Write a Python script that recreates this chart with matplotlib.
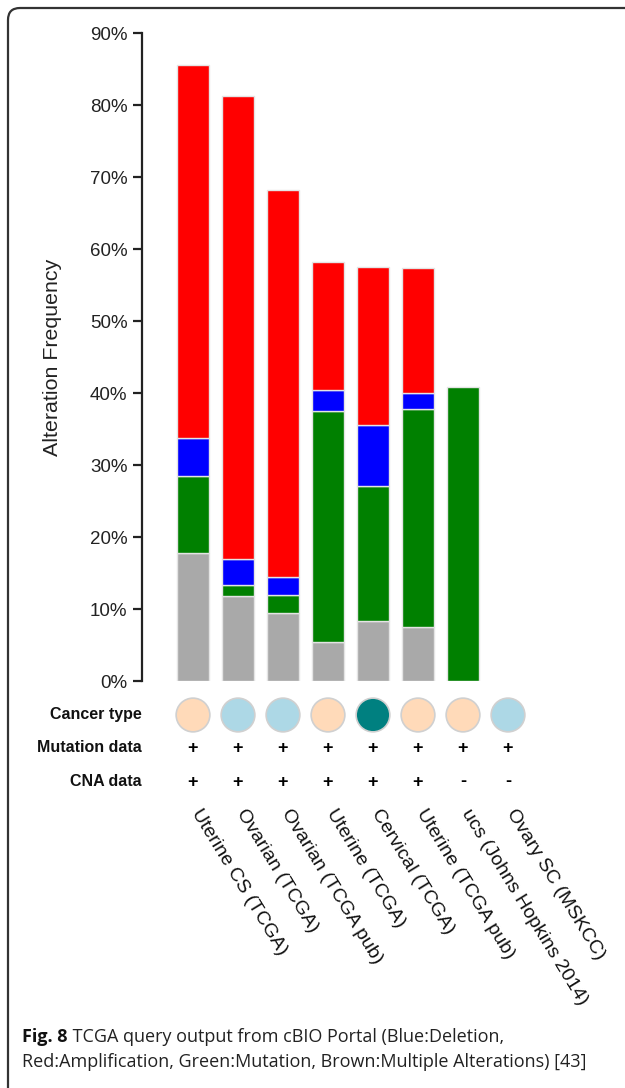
import numpy as np
import matplotlib.pyplot as plt
from matplotlib.patches import FancyBboxPatch

# study names, in plot order
studies = ["Uterine CS (TCGA)", "Ovarian (TCGA)", "Ovarian (TCGA pub)",
           "Uterine (TCGA)", "Cervical (TCGA)", "Uterine (TCGA pub)",
           "ucs (Johns Hopkins 2014)", "Ovary SC (MSKCC)"]

# alteration frequency (%) per segment, stacked bottom -> top
multiple = [17.8, 11.85, 9.4, 5.4, 8.4, 7.45, 0.0, 0.0]
mutation = [10.7, 1.55, 2.5, 32.1, 18.7, 30.35, 40.8, 0.0]
deletion = [5.3, 3.5, 2.5, 2.9, 8.5, 2.2, 0.0, 0.0]
amplification = [51.8, 64.3, 53.8, 17.75, 21.9, 17.4, 0.0, 0.0]

cancer_type = ["uterine", "ovarian", "ovarian", "uterine", "cervical",
               "uterine", "uterine", "ovarian"]
mutation_data = ["+", "+", "+", "+", "+", "+", "+", "+"]
cna_data = ["+", "+", "+", "+", "+", "+", "-", "-"]

type_colors = {"uterine": "#FFDAB9", "ovarian": "#ADD8E6", "cervical": "#008080"}
seg_colors = ["#A9A9A9", "#008000", "#0000FF", "#FF0000"]

W, H = 625, 1088
fig = plt.figure(figsize=(W / 100, H / 100), dpi=100)
plt.rcParams['font.family'] = ['Liberation Sans', 'DejaVu Sans']


def px_axes(left, top, right, bottom):
    return fig.add_axes([left / W, 1 - bottom / H, (right - left) / W, (bottom - top) / H])


# main bar axes: x from 142 px, 45 px per bar, first bar centre at 193 px
ax = px_axes(142, 33, 560, 681)
x = np.arange(len(studies))
xmin = -(193 - 142) / 45
xlim = (xmin, xmin + (560 - 142) / 45)
ax.set_xlim(*xlim)
ax.set_ylim(0, 90)

bottom = np.zeros(len(studies))
for vals, c in zip([multiple, mutation, deletion, amplification], seg_colors):
    vals = np.array(vals)
    keep = vals > 0
    ax.bar(x[keep], vals[keep], width=32 / 45, bottom=bottom[keep], color=c,
           edgecolor="#e4e4e4", linewidth=1.0)
    bottom += vals

for s in ["top", "right", "bottom"]:
    ax.spines[s].set_visible(False)
ax.spines["left"].set_linewidth(1.6)
ax.spines["left"].set_color("#222222")
ax.set_yticks(np.arange(0, 91, 10))
ax.set_yticklabels([f"{v}%" for v in range(0, 91, 10)], fontsize=13.5, color="#222222")
ax.tick_params(axis="y", length=6.5, width=1.6, pad=4, color="#222222")
ax.set_xticks([])
ax.set_ylabel("Alteration Frequency", fontsize=15.4, color="#222222", labelpad=20)

# rows below the bars
axr = px_axes(142, 690, 560, 1000)
axr.set_xlim(*xlim)
axr.set_ylim(1000, 690)
axr.axis("off")

row_y = [715, 748, 782]
for yy, lab in zip(row_y, ["Cancer type", "Mutation data", "CNA data"]):
    axr.text(xlim[0], yy, lab, ha="right", va="center", fontsize=11.5,
             fontweight="bold", color="#111111")

axr.scatter(x, [row_y[0]] * len(x), s=590,
            c=[type_colors[t] for t in cancer_type],
            edgecolors="#d0d0d0", linewidths=1.2, clip_on=False)
for xi, m, c in zip(x, mutation_data, cna_data):
    axr.text(xi, row_y[1], m, ha="center", va="center", fontsize=13, fontweight="bold")
    axr.text(xi, row_y[2], c, ha="center", va="center", fontsize=13, fontweight="bold")

for xi, name in zip(x, studies):
    axr.text(xi + 0.2, 806, name, rotation=-58.5, rotation_mode="anchor",
             ha="left", va="top", fontsize=14, color="#111111")

# caption
t1 = fig.text(22 / W, 1 - 1037 / H, "Fig. 8", fontsize=13, fontweight="bold",
              ha="left", va="center", family="Open Sans", color="#111111")
ax.annotate(" TCGA query output from cBIO Portal (Blue:Deletion,", xy=(1, 0.5),
            xycoords=t1, ha="left", va="center", fontsize=13,
            family="Open Sans", color="#222222", annotation_clip=False)
fig.text(22 / W, 1 - 1062 / H,
         "Red:Amplification, Green:Mutation, Brown:Multiple Alterations) [43]",
         fontsize=13, ha="left", va="center", family="Open Sans", color="#222222")

# frame with rounded top-left corner
frame = FancyBboxPatch((0.08, -0.5), 8.0, 10.80 + 0.5,
                       boxstyle="round,pad=0,rounding_size=0.12",
                       transform=fig.dpi_scale_trans, fill=False,
                       edgecolor="#333333", linewidth=1.6)
fig.patches.append(frame)

fig.savefig("out.png", dpi=100)
